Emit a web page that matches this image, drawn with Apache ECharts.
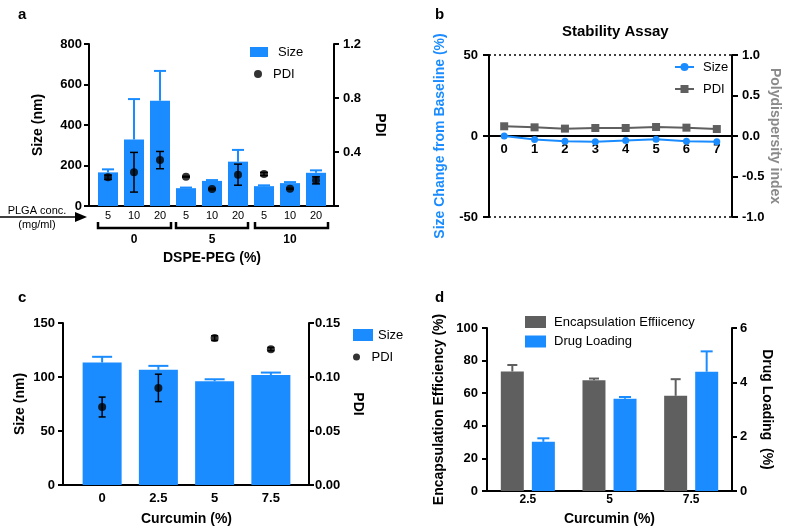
<!DOCTYPE html>
<html><head><meta charset="utf-8">
<script src="https://cdn.jsdelivr.net/npm/echarts@6/dist/echarts.min.js"></script>
<style>html,body{margin:0;padding:0;background:#fff}#c{width:787px;height:530px}</style>
</head><body><div id="c"></div>
<script>
// ---------- data ----------
const aPlga = ['5','10','20','5','10','20','5','10','20'];
const aDspe = ['0','5','10'];
const aSize = [166,329,520,88,124,219,98,113,164];
const aSizeErr = [15,199,147,3,4,58,4,5,12];
const aPdi = [0.213,0.25,0.34,0.217,0.126,0.232,0.237,0.128,0.19];
const aPdiErr = [0.016,0.147,0.064,0.003,0.005,0.078,0.012,0.004,0.026];

const bDays = ['0','1','2','3','4','5','6','7'];
const bSize = [0,-2.1,-3.2,-3.5,-2.8,-2.0,-3.3,-3.5];
const bPdi = [0.12,0.107,0.091,0.099,0.099,0.111,0.103,0.086];

const cCur = ['0','2.5','5','7.5'];
const cSize = [113.4,106.6,96.1,101.9];
const cSizeErr = [5.3,3.7,1.8,2.2];
const cPdi = [0.0722,0.0899,0.136,0.1258];
const cPdiErr = [0.0092,0.0127,0.0022,0.0015];

const dCur = ['2.5','5','7.5'];
const dEE = [73.3,68.0,58.4];
const dEEErr = [4.0,1.0,10.2];
const dDL = [1.81,3.40,4.39];
const dDLErr = [0.13,0.06,0.75];

// ---------- helpers ----------
const BLUE = '#1a8cff', GRAY = '#5f5f5f', F = 'Liberation Sans';
const tri = (vals, errs) => vals.map((v, i) => [i, v, errs[i]]);
function errItem(color, cap, width, dx, both) {
  return function (params, api) {
    const i = api.value(0), v = api.value(1), e = api.value(2);
    const c = api.coord([i, v]), hi = api.coord([i, v + e]), lo = api.coord([i, v - e]);
    const x = c[0] + dx;
    const st = {stroke: color, lineWidth: width};
    const ch = [
      {type: 'line', shape: {x1: x, y1: both ? lo[1] : c[1], x2: x, y2: hi[1]}, style: st},
      {type: 'line', shape: {x1: x - cap / 2, y1: hi[1], x2: x + cap / 2, y2: hi[1]}, style: st}
    ];
    if (both) ch.push({type: 'line', shape: {x1: x - cap / 2, y1: lo[1], x2: x + cap / 2, y2: lo[1]}, style: st});
    return {type: 'group', children: ch};
  };
}
function yAx(gi, pos, min, max, interval, name, nameGap, o) {
  o = o || {};
  return {
    gridIndex: gi, type: 'value', position: pos, min: min, max: max, interval: interval,
    offset: o.offset || 0,
    name: name, nameLocation: 'middle', nameGap: nameGap, nameRotate: pos === 'right' ? -90 : 90,
    nameTextStyle: {color: o.nameColor || '#000', fontFamily: F, fontWeight: 'bold', fontSize: 14},
    axisLine: {show: true, lineStyle: {color: '#000', width: 2}},
    axisTick: {show: true, length: o.tick || 5, lineStyle: {color: '#000', width: 2}},
    axisLabel: {color: '#000', fontFamily: F, fontWeight: 'bold', fontSize: 13, margin: o.margin || 8,
                formatter: o.fmt},
    splitLine: o.split ? {show: true, lineStyle: {color: '#000', width: 1.5, type: [2, 3]}} : {show: false}
  };
}
function xAx(gi, data, o) {
  return {
    gridIndex: gi, type: 'category', data: data, position: 'bottom', offset: o.offset || 0,
    name: o.name, nameLocation: 'middle', nameGap: o.nameGap,
    nameTextStyle: {color: '#000', fontFamily: F, fontWeight: 'bold', fontSize: 14},
    axisLine: {show: !!o.line, onZero: false, lineStyle: {color: '#000', width: 2}},
    axisTick: {show: false},
    axisLabel: {interval: 0, color: '#000', fontFamily: F, fontWeight: o.bold ? 'bold' : 'normal',
                fontSize: o.size || 13, margin: o.margin}
  };
}
function lg(name, text, left, top, w, h, icon, gap) {
  const l = {data: [name], left: left, top: top, orient: 'vertical', itemWidth: w, itemHeight: h,
    padding: 0, selectedMode: false, formatter: () => text,
    textStyle: {fontFamily: F, fontSize: 13, color: '#000', padding: [0, 0, 0, gap || 0]}};
  if (icon) l.icon = icon;
  return l;
}
const letter = (t, left, top) => ({text: t, left: left, top: top,
  textStyle: {fontFamily: F, fontWeight: 'bold', fontSize: 15, color: '#000'}});
const gline = (x1, y1, x2, y2, w) => ({type: 'line', shape: {x1, y1, x2, y2}, style: {stroke: '#000', lineWidth: w || 2}});
const gpoly = (pts) => ({type: 'polyline', shape: {points: pts}, style: {stroke: '#000', lineWidth: 2.5, fill: null}});
const gtext = (t, x, y, font) => ({type: 'text', style: {text: t, x: x, y: y, font: font,
  textAlign: 'center', textVerticalAlign: 'middle', align: 'center', verticalAlign: 'middle', fill: '#000'}});

const option = {
  animation: false,
  backgroundColor: '#fff',
  title: [letter('a', 13, 2), letter('b', 430, 2), letter('c', 13, 285), letter('d', 430, 285),
    {text: 'Stability Assay', left: 557, top: 19, textStyle: {fontFamily: F, fontWeight: 'bold', fontSize: 15, color: '#000'}}],
  grid: [
    {left: 95, top: 44, width: 234, height: 162},
    {left: 489, top: 55, width: 243, height: 162},
    {left: 74, top: 323, width: 225, height: 162},
    {left: 487, top: 328, width: 245, height: 163}
  ],
  xAxis: [
    xAx(0, aPlga, {name: 'DSPE-PEG (%)', nameGap: 45, size: 11, margin: 4}),
    xAx(0, aDspe, {offset: 28, bold: true, size: 12, margin: 0}),
    // stability axis sits on the zero line of the left value axis (middle of the grid)
    xAx(1, bDays, {line: true, offset: -81, bold: true, size: 13, margin: 7}),
    xAx(2, cCur, {name: 'Curcumin (%)', nameGap: 27, bold: true, size: 13, margin: 7}),
    xAx(3, dCur, {line: true, name: 'Curcumin (%)', nameGap: 21, bold: true, size: 12, margin: 3})
  ],
  yAxis: [
    yAx(0, 'left', 0, 800, 200, 'Size (nm)', 44, {offset: 6, margin: 7}),
    yAx(0, 'right', 0, 1.2, 0.4, 'PDI', 39, {offset: 5, margin: 9, fmt: v => v === 0 ? '' : v.toFixed(1)}),
    yAx(1, 'left', -50, 50, 50, 'Size Change from Baseline (%)', 42, {nameColor: BLUE, tick: 6, margin: 11, split: true}),
    yAx(1, 'right', -1, 1, 0.5, 'Polydispersity index', 36, {nameColor: '#8a8a8a', tick: 6, margin: 10, fmt: v => v.toFixed(1)}),
    yAx(2, 'left', 0, 150, 50, 'Size (nm)', 36, {offset: 11, margin: 8}),
    yAx(2, 'right', 0, 0.15, 0.05, 'PDI', 42, {offset: 10, margin: 6, fmt: v => v.toFixed(2)}),
    yAx(3, 'left', 0, 100, 20, 'Encapsulation Efficiency (%)', 41, {margin: 9}),
    yAx(3, 'right', 0, 6, 2, 'Drug Loading  (%)', 28, {margin: 8})
  ],
  legend: [
    lg('aSize', 'Size', 250, 45.5, 18, 10, 'rect', 5),
    lg('aPDI', 'PDI', 254, 67.5, 18, 8, 'circle', 1),
    lg('bSize', 'Size', 674, 60.5, 19, 10, null, 4),
    lg('bPDI', 'PDI', 674, 82.5, 19, 10, null, 4),
    lg('cSize', 'Size', 353, 328.5, 20, 12, 'rect', 0),
    lg('cPDI', 'PDI', 353, 350.5, 20, 7, 'circle', 0),
    lg('dEE', 'Encapsulation Effiicency', 525, 315.5, 21, 12, 'rect', 3),
    lg('dDL', 'Drug Loading', 525, 335, 21, 12, 'rect', 3)
  ],
  series: [
    {name: 'aSize', type: 'bar', xAxisIndex: 0, yAxisIndex: 0, data: aSize, barWidth: 20, itemStyle: {color: BLUE}},
    {type: 'custom', xAxisIndex: 0, yAxisIndex: 0, data: tri(aSize, aSizeErr), renderItem: errItem(BLUE, 12, 2, 0, false), z: 3},
    {type: 'custom', xAxisIndex: 0, yAxisIndex: 1, data: tri(aPdi, aPdiErr), renderItem: errItem('#000', 8, 1.5, 0, true), z: 4},
    {name: 'aPDI', type: 'scatter', xAxisIndex: 0, yAxisIndex: 1, data: aPdi, symbol: 'circle', symbolSize: 8, itemStyle: {color: '#000'}, z: 5},

    {name: 'bSize', type: 'line', xAxisIndex: 2, yAxisIndex: 2, data: bSize, symbol: 'circle', symbolSize: 7,
      lineStyle: {color: BLUE, width: 2}, itemStyle: {color: BLUE}, z: 6},
    {name: 'bPDI', type: 'line', xAxisIndex: 2, yAxisIndex: 3, data: bPdi, symbol: 'rect', symbolSize: 8,
      lineStyle: {color: GRAY, width: 2}, itemStyle: {color: GRAY}, z: 5},

    {name: 'cSize', type: 'bar', xAxisIndex: 3, yAxisIndex: 4, data: cSize, barWidth: 39, itemStyle: {color: BLUE}},
    {type: 'custom', xAxisIndex: 3, yAxisIndex: 4, data: tri(cSize, cSizeErr), renderItem: errItem(BLUE, 20, 2, 0, false), z: 3},
    {type: 'custom', xAxisIndex: 3, yAxisIndex: 5, data: tri(cPdi, cPdiErr), renderItem: errItem('#000', 7, 1.5, 0, true), z: 4},
    {name: 'cPDI', type: 'scatter', xAxisIndex: 3, yAxisIndex: 5, data: cPdi, symbol: 'circle', symbolSize: 8, itemStyle: {color: '#000'}, z: 5},

    {name: 'dEE', type: 'bar', xAxisIndex: 4, yAxisIndex: 6, data: dEE, barWidth: 23, barGap: '35%', itemStyle: {color: GRAY}},
    {name: 'dDL', type: 'bar', xAxisIndex: 4, yAxisIndex: 7, data: dDL, barWidth: 23, barGap: '35%', itemStyle: {color: BLUE}},
    {type: 'custom', xAxisIndex: 4, yAxisIndex: 6, data: tri(dEE, dEEErr), renderItem: errItem(GRAY, 10, 2, -15.5, false), z: 3},
    {type: 'custom', xAxisIndex: 4, yAxisIndex: 7, data: tri(dDL, dDLErr), renderItem: errItem(BLUE, 12, 2, 15.5, false), z: 3}
  ],
  graphic: [
    gline(89, 206, 334, 206, 2),
    gline(63, 485, 309, 485, 2),
    gpoly([[98, 222], [98, 228], [171, 228], [171, 222]]),
    gpoly([[176, 222], [176, 228], [248, 228], [248, 222]]),
    gpoly([[255, 222], [255, 228], [328, 228], [328, 222]]),
    gline(0, 217, 77, 217, 1.5),
    {type: 'polygon', shape: {points: [[75, 212], [87, 217], [75, 222]]}, style: {fill: '#000'}},
    gtext('PLGA conc.', 37, 210.5, '11px "Liberation Sans"'),
    gtext('(mg/ml)', 37, 224.5, '11px "Liberation Sans"')
  ]
};
const chart = echarts.init(document.getElementById('c'), null, {renderer: 'canvas'});
chart.setOption(option);
</script>
</body></html>
